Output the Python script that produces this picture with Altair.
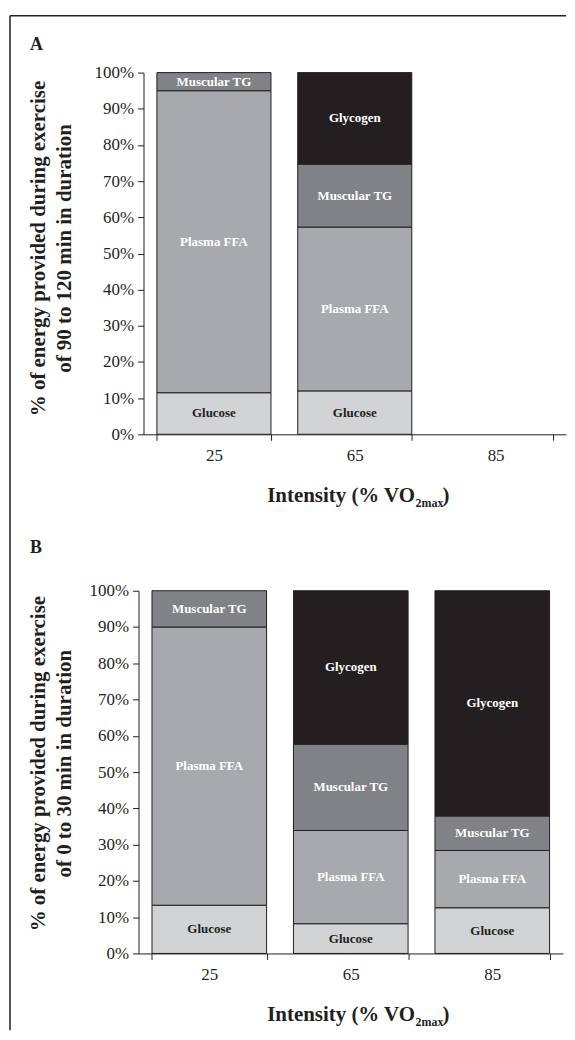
import altair as alt
import pandas as pd

sources = ["Glucose", "Plasma FFA", "Muscular TG", "Glycogen"]
intensities = ["25", "65", "85"]
fill_colors = ["#d1d3d4", "#a7a9ac", "#808285", "#231f20"]
label_colors = ["#231f20", "#ffffff", "#ffffff", "#ffffff"]
y_ticks = [0, 10, 20, 30, 40, 50, 60, 70, 80, 90, 100]

# Panel A: exercise of 90 to 120 min
a_intensity = ["25", "25", "25", "65", "65", "65", "65"]
a_source = ["Glucose", "Plasma FFA", "Muscular TG",
            "Glucose", "Plasma FFA", "Muscular TG", "Glycogen"]
a_value = [11.5, 83.5, 5.0, 12.0, 45.3, 17.4, 25.3]

# Panel B: exercise of 0 to 30 min
b_intensity = ["25", "25", "25", "65", "65", "65", "65", "85", "85", "85", "85"]
b_source = ["Glucose", "Plasma FFA", "Muscular TG",
            "Glucose", "Plasma FFA", "Muscular TG", "Glycogen",
            "Glucose", "Plasma FFA", "Muscular TG", "Glycogen"]
b_value = [13.3, 76.7, 10.0, 8.2, 25.7, 23.8, 42.3, 12.6, 15.8, 9.5, 62.1]

a_title = ["% of energy provided during exercise", "of 90 to 120 min in duration"]
b_title = ["% of energy provided during exercise", "of 0 to 30 min in duration"]

INK = "#231f20"
SERIF = "Liberation Serif"


def make_df(inten, src, val):
    return pd.DataFrame({
        "intensity": inten,
        "source": src,
        "value": val,
        "order": [sources.index(s) for s in src],
    })


def panel(df, width, height, xrange, yoff, title_lines, title_y, letter, letter_y, frame):
    xs = dict(domain=intensities, paddingInner=0.19, paddingOuter=0.095)
    if xrange is not None:
        xs["range"] = xrange
    xscale = alt.Scale(**xs)
    yscale = alt.Scale(domain=[0, 100], nice=False)

    xaxis = alt.Axis(title=None, labelAngle=0, tickBand="extent", tickSize=6,
                     labelPadding=7, labelFontSize=17, labelFont=SERIF,
                     labelColor=INK, domainColor=INK, tickColor=INK, grid=False)
    yaxis = alt.Axis(values=y_ticks, labelExpr="datum.value + '%'", grid=False,
                     tickSize=6, labelPadding=4, labelFontSize=17, labelFont=SERIF,
                     labelColor=INK, domainColor=INK, tickColor=INK, offset=yoff,
                     title=title_lines, titleAngle=-90, titleAlign="center",
                     titleBaseline="alphabetic", titleX=-94 - yoff * -1 if False else -94 + yoff,
                     titleY=title_y, titleFont=SERIF, titleFontSize=21,
                     titleFontWeight="bold", titleLineHeight=26, titleColor=INK)

    base = alt.Chart(df).transform_stack(
        stack="value", groupby=["intensity"], as_=["v0", "v1"],
        sort=[alt.SortField(field="order", order="ascending")]
    ).transform_calculate(mid="(datum.v0 + datum.v1) / 2")

    bars = base.mark_bar(stroke=INK, strokeWidth=1).encode(
        x=alt.X("intensity:N", scale=xscale, axis=xaxis),
        y=alt.Y("v0:Q", scale=yscale, axis=yaxis),
        y2="v1:Q",
        color=alt.Color("source:N", scale=alt.Scale(domain=sources, range=fill_colors), legend=None),
    )
    labels = base.mark_text(font=SERIF, fontSize=13, fontWeight="bold", baseline="middle").encode(
        x=alt.X("intensity:N", scale=xscale, axis=xaxis),
        y=alt.Y("mid:Q", scale=yscale, axis=yaxis),
        text="source:N",
        color=alt.Color("source:N", scale=alt.Scale(domain=sources, range=label_colors), legend=None),
    )

    dummy = alt.Chart(pd.DataFrame({"k": [0]}))
    t1 = dummy.mark_text(font=SERIF, fontSize=21, fontWeight="bold", align="right",
                         baseline="alphabetic", color=INK).encode(
        x=alt.value(277.5), y=alt.value(height + 68), text=alt.value("Intensity (% VO"))
    t2 = dummy.mark_text(font=SERIF, fontSize=12, fontWeight="bold", align="left",
                         baseline="alphabetic", color=INK).encode(
        x=alt.value(278), y=alt.value(height + 73), text=alt.value("2max"))
    t3 = dummy.mark_text(font=SERIF, fontSize=21, fontWeight="bold", align="left",
                         baseline="alphabetic", color=INK).encode(
        x=alt.value(305), y=alt.value(height + 68), text=alt.value(")"))
    let = dummy.mark_text(font=SERIF, fontSize=18, fontWeight="bold", align="left",
                          baseline="alphabetic", color=INK).encode(
        x=alt.value(-109), y=alt.value(letter_y), text=alt.value(letter))

    layers = [bars, labels, t1, t2, t3, let]
    if frame:
        vline = dummy.mark_rule(color=INK, strokeWidth=1.5).encode(
            x=alt.value(-129), y=alt.value(-57), y2=alt.value(961))
        hline = dummy.mark_rule(color=INK, strokeWidth=1.5).encode(
            x=alt.value(-129), x2=alt.value(429), y=alt.value(-57))
        layers += [vline, hline]

    return alt.layer(*layers).resolve_scale(color="independent").properties(
        width=width, height=height)


top = panel(make_df(a_intensity, a_source, a_value), 429, 363, [5, 429], -5,
            a_title, 176, "A", -22.5, True)
bottom = panel(make_df(b_intensity, b_source, b_value), 426, 364, None, 0,
               b_title, 173, "B", -38, False)

chart = alt.vconcat(top, bottom, spacing=157, bounds="flush").properties(
    padding={"left": 1, "top": 5, "right": 0, "bottom": 0},
    background="white",
).configure_view(stroke=None)

chart.save("out.html", embed_options={"renderer": "svg", "actions": False})
